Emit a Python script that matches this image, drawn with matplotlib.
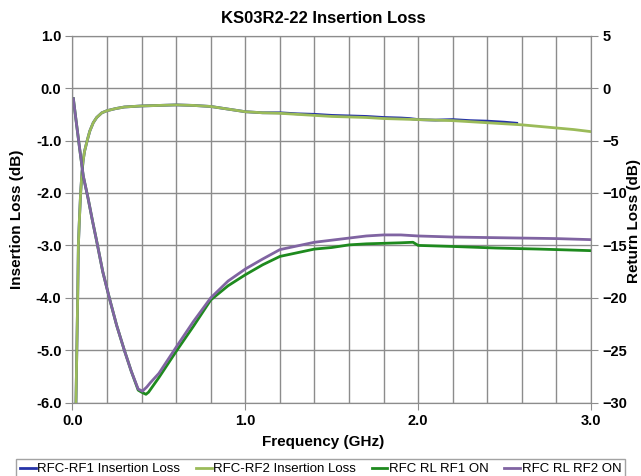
import matplotlib
matplotlib.use("Agg")
import matplotlib.pyplot as plt
from matplotlib.ticker import MultipleLocator, FormatStrFormatter

plt.rcParams['font.family'] = ['Liberation Sans', 'DejaVu Sans']

# insertion loss, RFC-RF2 (left axis, dB)
f_il2 = [0.015, 0.02, 0.03, 0.034, 0.04, 0.047, 0.055, 0.062, 0.07, 0.085, 0.1, 0.12,
         0.14, 0.17, 0.2, 0.25, 0.3, 0.4, 0.5, 0.6, 0.7, 0.8, 0.9, 1.0, 1.1, 1.2, 1.3,
         1.4, 1.5, 1.6, 1.7, 1.8, 1.9, 2.0, 2.1, 2.2, 2.3, 2.4, 2.5, 2.6, 2.7, 2.8, 2.9, 3.0]
il2 = [-7.0, -6.0, -4.0, -3.0, -2.5, -2.0, -1.6, -1.37, -1.2, -1.0, -0.82, -0.66,
       -0.56, -0.47, -0.43, -0.39, -0.36, -0.34, -0.33, -0.32, -0.33, -0.35, -0.40, -0.45, -0.47, -0.48, -0.50,
       -0.52, -0.54, -0.55, -0.56, -0.58, -0.59, -0.60, -0.61, -0.62, -0.64, -0.66, -0.68, -0.70, -0.73, -0.76, -0.79, -0.83]

# insertion loss, RFC-RF1 (stops at ~2.57 GHz)
f_il1 = [0.015, 0.02, 0.03, 0.034, 0.04, 0.047, 0.055, 0.062, 0.07, 0.085, 0.1, 0.12,
         0.14, 0.17, 0.2, 0.25, 0.3, 0.4, 0.5, 0.6, 0.7, 0.8, 0.9, 1.0, 1.1, 1.2, 1.3,
         1.4, 1.5, 1.6, 1.7, 1.8, 1.9, 1.95, 2.0, 2.1, 2.2, 2.3, 2.4, 2.5, 2.57]
il1 = [-7.0, -6.0, -4.0, -3.0, -2.5, -2.0, -1.6, -1.37, -1.2, -1.0, -0.82, -0.66,
       -0.56, -0.47, -0.43, -0.39, -0.36, -0.34, -0.33, -0.32, -0.33, -0.35, -0.40, -0.45, -0.47, -0.47, -0.49,
       -0.50, -0.52, -0.53, -0.54, -0.56, -0.57, -0.58, -0.60, -0.61, -0.60, -0.62, -0.63, -0.65, -0.67]

# return loss RFC RL RF1 ON (right axis, dB)
f_rl1 = [0.005, 0.02, 0.04, 0.0625, 0.09, 0.115, 0.14, 0.175, 0.213, 0.255, 0.3, 0.34,
         0.38, 0.40, 0.425, 0.44, 0.5, 0.6, 0.7, 0.8, 0.9, 1.0, 1.1, 1.2, 1.3, 1.4, 1.5,
         1.6, 1.7, 1.8, 1.9, 1.97, 2.0, 2.2, 2.45, 2.7, 3.0]
rl1 = [-1.0, -3.0, -5.6, -8.4, -10.5, -12.6, -14.6, -17.5, -20.0, -22.6, -25.0, -27.0,
       -28.8, -29.0, -29.2, -29.0, -27.6, -25.1, -22.7, -20.2, -18.85, -17.8, -16.85, -16.05, -15.7, -15.35, -15.2,
       -14.95, -14.85, -14.8, -14.75, -14.7, -15.0, -15.1, -15.25, -15.35, -15.5]

# return loss RFC RL RF2 ON
f_rl2 = [0.005, 0.02, 0.04, 0.0625, 0.09, 0.115, 0.14, 0.175, 0.213, 0.255, 0.3, 0.34,
         0.38, 0.405, 0.43, 0.45, 0.5, 0.6, 0.7, 0.8, 0.9, 1.0, 1.1, 1.2, 1.3, 1.4, 1.5,
         1.6, 1.7, 1.8, 1.9, 2.0, 2.2, 2.4, 2.6, 2.8, 3.0]
rl2 = [-1.0, -3.0, -5.6, -8.4, -10.5, -12.6, -14.6, -17.5, -20.0, -22.6, -25.0, -27.0,
       -28.7, -28.9, -28.5, -28.1, -27.2, -24.7, -22.25, -20.0, -18.4, -17.25, -16.3, -15.4, -15.05, -14.7, -14.5,
       -14.3, -14.1, -14.0, -14.0, -14.1, -14.2, -14.25, -14.3, -14.35, -14.45]

fig = plt.figure(figsize=(6.41, 4.76), dpi=100)
ax = fig.add_axes([0.1131, 0.154, 0.8089, 0.771])
ax2 = ax.twinx()

grid_c = '#8C8C8C'
l1, = ax.plot(f_il1, il1, color='#2633A8', lw=2, label='RFC-RF1 Insertion Loss')
l2, = ax.plot(f_il2, il2, color='#9BBB59', lw=2, label='RFC-RF2 Insertion Loss')
l3, = ax2.plot(f_rl1, rl1, color='#1E8A1E', lw=2, label='RFC RL RF1 ON')
l4, = ax2.plot(f_rl2, rl2, color='#8064A2', lw=2, label='RFC RL RF2 ON')

ax.set_xlim(0, 3.0)
ax.set_ylim(-6.0, 1.0)
ax2.set_ylim(-30, 5)

ax.xaxis.set_major_locator(MultipleLocator(1.0))
ax.xaxis.set_minor_locator(MultipleLocator(0.2))
ax.xaxis.set_major_formatter(FormatStrFormatter('%.1f'))
ax.yaxis.set_major_locator(MultipleLocator(1.0))
ax.yaxis.set_major_formatter(FormatStrFormatter('%.1f'))
ax2.yaxis.set_major_locator(MultipleLocator(5))

ax.grid(True, which='both', color=grid_c, lw=1)
ax.set_axisbelow(True)
ax.tick_params(axis='x', which='minor', length=0)
ax.tick_params(axis='both', which='major', length=5, color=grid_c, labelsize=10.5, pad=3)
ax2.tick_params(axis='y', length=5, color=grid_c, labelsize=10.5, pad=3)
for lab in ax.get_xticklabels() + ax.get_yticklabels() + ax2.get_yticklabels():
    lab.set_fontweight('bold')

for a in (ax, ax2):
    for s in a.spines.values():
        s.set_color(grid_c)

fig.text(0.505, 0.962, 'KS03R2-22 Insertion Loss', ha='center', va='center',
         fontsize=12, fontweight='bold')
fig.text(0.504, 0.071, 'Frequency (GHz)', ha='center', va='center',
         fontsize=11, fontweight='bold')
fig.text(0.027, 0.54, 'Insertion Loss (dB)', ha='center', va='center',
         rotation=90, fontsize=11, fontweight='bold')
fig.text(0.989, 0.535, 'Return Loss (dB)', ha='center', va='center',
         rotation=90, fontsize=11, fontweight='bold')

leg = fig.legend(handles=[l1, l2, l3, l4], loc='center', bbox_to_anchor=(0.5, 0.014),
                 ncol=4, fontsize=9.5, frameon=True, fancybox=False, handlelength=1.2,
                 handletextpad=0.1, columnspacing=1.2, borderpad=0.3)
leg.get_frame().set_edgecolor(grid_c)
leg.get_frame().set_linewidth(1)

fig.savefig('out.png', dpi=100)
